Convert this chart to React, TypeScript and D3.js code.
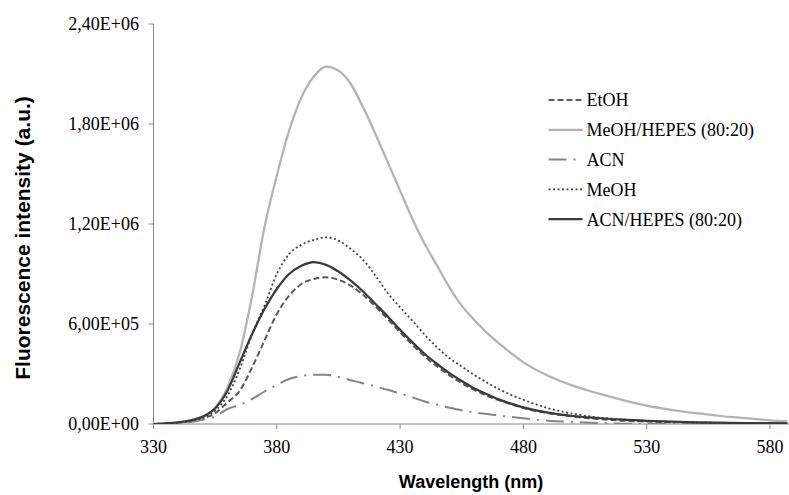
import React from "react";
import * as d3 from "d3";

const wavelengths = [330,335,340,345,350,355,360,365,370,375,380,385,390,395,400,405,410,415,420,425,430,435,440,445,450,455,460,465,470,475,480,490,500,510,520,530,540,550,560,570,580,587];

// values in thousands (a.u. × 1e3)
const etoh = [0,3,8,17,33,65,130,200,340,500,660,770,840,870,880,865,830,775,705,630,550,475,405,345,292,245,205,170,143,118,96,65,45,30,20,15,11,8,6,5,4,3];
const meohHepes = [0,3,8,18,40,95,220,430,770,1180,1490,1760,1960,2085,2145,2120,2040,1900,1740,1570,1400,1230,1080,950,820,710,625,550,485,425,370,290,230,185,145,110,85,65,48,35,22,16];
const acn = [0,2,6,12,25,45,90,115,150,195,235,270,288,295,295,282,263,244,225,205,183,160,135,115,98,82,70,60,52,42,34,20,12,6,2,0,0,0,0,0,0,0];
const meoh = [0,3,8,18,38,80,170,330,540,710,900,1020,1075,1105,1120,1100,1050,985,890,785,700,620,535,460,395,345,295,250,210,175,145,95,62,40,28,19,13,9,7,5,4,3];
const acnHepes = [0,4,10,22,45,95,200,370,540,690,810,900,950,972,955,915,860,795,720,645,565,490,420,360,305,258,215,180,148,122,100,68,48,36,26,19,14,10,8,6,5,4];

const seriesNames = ["EtOH", "MeOH/HEPES (80:20)", "ACN", "MeOH", "ACN/HEPES (80:20)"];
const seriesValues = [etoh, meohHepes, acn, meoh, acnHepes];
const seriesColors = ["#5a5a5a", "#b3b3b3", "#858585", "#404040", "#3a3a3a"];
const seriesDash = ["6,3", null, "18,7,2,7", "2,2.5", null];
const seriesWidth = [2, 2.25, 2, 1.75, 2.25];

const yTicks = [0, 600000, 1200000, 1800000, 2400000];
const yTickLabels = ["0,00E+00", "6,00E+05", "1,20E+06", "1,80E+06", "2,40E+06"];
const xTicks = [330, 380, 430, 480, 530, 580];

export default function App() {
  const W = 789, H = 495;
  const x0 = 153.5, x1 = 789, y0 = 424, y1 = 24;
  const pxPerNm = (770 - 153.5) / 250;
  const xMax = 330 + (x1 - x0) / pxPerNm;
  const x = d3.scaleLinear().domain([330, xMax]).range([x0, x1]);
  const y = d3.scaleLinear().domain([0, 2400000]).range([y0, y1]);

  const line = d3
    .line<number>()
    .x((_, i) => x(wavelengths[i]))
    .y((v) => y(v * 1000))
    .curve(d3.curveMonotoneX);

  const axisColor = "#868686";
  const serif = "'Liberation Serif', 'Times New Roman', serif";
  const sans = "'Liberation Sans', Arial, sans-serif";

  const legendX = 548.5, legendY = 100, legendStep = 29.8;

  return (
    <svg width={W} height={H} style={{ position: "absolute", left: 0, top: 0, background: "#fff" }}>
      <rect width={W} height={H} fill="#fff" />
      <line x1={x0} x2={x0} y1={y1} y2={y0} stroke={axisColor} strokeWidth={1} />
      <line x1={x0} x2={x1} y1={y0} y2={y0} stroke={axisColor} strokeWidth={1} />
      {yTicks.map((t, i) => (
        <g key={"y" + i}>
          <line x1={x0 - 5} x2={x0} y1={y(t)} y2={y(t)} stroke={axisColor} />
          <text x={139} y={y(t)} dy="0.35em" textAnchor="end" fontFamily={serif} fontSize={18} fill="#000">
            {yTickLabels[i]}
          </text>
        </g>
      ))}
      {xTicks.map((t) => (
        <g key={"x" + t}>
          <line x1={x(t)} x2={x(t)} y1={y0} y2={y0 + 5} stroke={axisColor} />
          <text x={x(t)} y={453} textAnchor="middle" fontFamily={serif} fontSize={18} fill="#000">
            {t}
          </text>
        </g>
      ))}
      <defs>
        <clipPath id="plotclip">
          <rect x={x0} y={y1 - 5} width={x1 - x0} height={y0 - y1 + 5} />
        </clipPath>
      </defs>
      <g clipPath="url(#plotclip)">
        {seriesValues.map((vals, i) => (
          <path
            key={seriesNames[i]}
            d={line(vals) || ""}
            fill="none"
            stroke={seriesColors[i]}
            strokeWidth={seriesWidth[i]}
            strokeDasharray={seriesDash[i] || undefined}
            strokeLinejoin="round"
          />
        ))}
      </g>
      {seriesNames.map((n, i) => (
        <g key={"lg" + i} transform={`translate(${legendX},${legendY + i * legendStep})`}>
          <line x1={0} x2={34} y1={0} y2={0} stroke={seriesColors[i]} strokeWidth={seriesWidth[i]} strokeDasharray={seriesDash[i] || undefined} />
          <text x={38} y={0} dy="0.35em" fontFamily={serif} fontSize={18} fill="#000">
            {n}
          </text>
        </g>
      ))}
      <text x={471} y={488} textAnchor="middle" fontFamily={sans} fontWeight="bold" fontSize={18} fill="#000">
        Wavelength (nm)
      </text>
      <text
        transform={`translate(30,238) rotate(-90)`}
        textAnchor="middle"
        fontFamily={sans}
        fontWeight="bold"
        fontSize={21}
        fill="#000"
      >
        Fluorescence intensity (a.u.)
      </text>
    </svg>
  );
}
